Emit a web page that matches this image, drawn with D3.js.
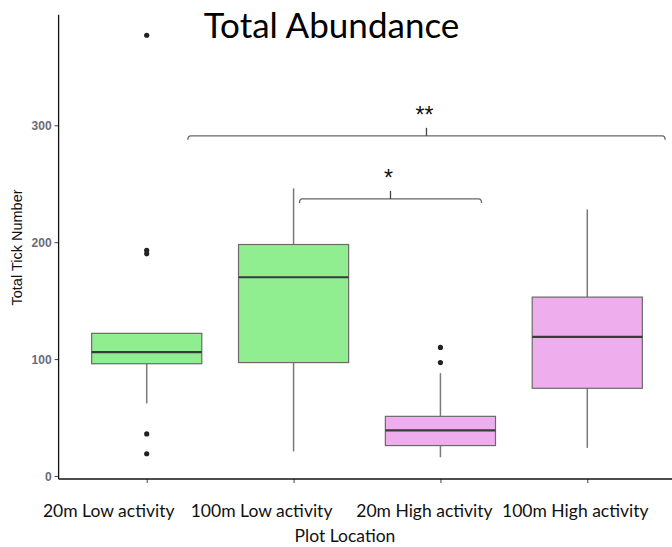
<!DOCTYPE html>
<html lang="en">
<head>
<meta charset="utf-8">
<script src="https://d3js.org/d3.v7.min.js"></script>
<style type="text/css">
body {
    margin: 0;
    background: #fff;
}
svg {
    display: block;
}
</style>
</head>
<body>
<div id="chart"></div>
<script type="text/javascript">

// chart values
var categories = ["20m Low activity", "100m Low activity", "20m High activity", "100m High activity"];
var whiskerLow = [62, 21, 16, 24];
var q1 = [96, 97, 26, 75];
var median = [106, 170, 39, 119];
var q3 = [122, 198, 51, 153];
var whiskerHigh = [122, 246, 88, 228];
var outliers = [[19, 36, 190, 193, 377], [], [97, 110], []];
var groupColor = ["#90EE90", "#90EE90", "#EEAEEE", "#EEAEEE"];
var yTicks = [0, 100, 200, 300];

// significance brackets (x in group index units, y in tick numbers)
var bracketFrom = [1.28, 2.04];
var bracketTo = [4.53, 3.28];
var bracketAt = [291, 237];
var bracketLabel = ["**", "*"];

var width = 672;
var height = 547;

var svg = d3.select("#chart")
    .append("svg")
    .attr("width", width)
    .attr("height", height);

// panel, ggplot style expansion
var panelLeft = 58.6, panelRight = 675.4, panelTop = 14.7, panelBottom = 479;

var x = d3.scalePoint()
    .domain(categories)
    .range([panelLeft, panelRight])
    .padding(0.6);

var xIdx = d3.scaleLinear()
    .domain([0.4, 4.6])
    .range([panelLeft, panelRight]);

var y = d3.scaleLinear()
    .domain([-2.6, 394.6])
    .range([panelBottom, panelTop]);

var boxWidth = x.step() * 0.75;

var boxes = categories.map(function(c, i) {
    return {
        name: c, lo: whiskerLow[i], q1: q1[i], med: median[i], q3: q3[i],
        hi: whiskerHigh[i], out: outliers[i], fill: groupColor[i]
    };
});

var g = svg.selectAll(".box")
    .data(boxes)
    .enter()
    .append("g")
    .attr("class", "box");

// whiskers
g.append("line")
    .attr("x1", function(d) { return x(d.name); })
    .attr("x2", function(d) { return x(d.name); })
    .attr("y1", function(d) { return y(d.q3); })
    .attr("y2", function(d) { return y(d.hi); })
    .attr("stroke", "#7a7a7a")
    .attr("stroke-width", 1.5);

g.append("line")
    .attr("x1", function(d) { return x(d.name); })
    .attr("x2", function(d) { return x(d.name); })
    .attr("y1", function(d) { return y(d.q1); })
    .attr("y2", function(d) { return y(d.lo); })
    .attr("stroke", "#7a7a7a")
    .attr("stroke-width", 1.5);

// boxes
g.append("rect")
    .attr("x", function(d) { return x(d.name) - boxWidth / 2; })
    .attr("width", boxWidth)
    .attr("y", function(d) { return y(d.q3); })
    .attr("height", function(d) { return y(d.q1) - y(d.q3); })
    .attr("fill", function(d) { return d.fill; })
    .attr("stroke", "#6a6a6a")
    .attr("stroke-width", 1.2);

// medians
g.append("line")
    .attr("x1", function(d) { return x(d.name) - boxWidth / 2; })
    .attr("x2", function(d) { return x(d.name) + boxWidth / 2; })
    .attr("y1", function(d) { return y(d.med); })
    .attr("y2", function(d) { return y(d.med); })
    .attr("stroke", "#3a3a3a")
    .attr("stroke-width", 2.2);

// outliers
g.selectAll("circle")
    .data(function(d) { return d.out.map(function(v) { return { name: d.name, v: v }; }); })
    .enter()
    .append("circle")
    .attr("cx", function(d) { return x(d.name); })
    .attr("cy", function(d) { return y(d.v); })
    .attr("r", 2.6)
    .attr("fill", "#222");

// axes
var yAxis = svg.append("g")
    .attr("transform", "translate(" + panelLeft + ",0)")
    .call(d3.axisLeft(y).tickValues(yTicks).tickSize(4).tickPadding(3));
yAxis.select(".domain").remove();
yAxis.append("line")
    .attr("y1", panelTop).attr("y2", panelBottom)
    .attr("stroke", "#111").attr("stroke-width", 1.3);
yAxis.selectAll(".tick line").attr("stroke", "#444");
yAxis.selectAll(".tick text")
    .attr("fill", "#6b6b78")
    .style("font-family", "Liberation Sans, Arial, sans-serif")
    .style("font-size", "12px")
    .style("font-weight", "bold")
    .attr("dy", "0.36em");

var xAxis = svg.append("g")
    .attr("transform", "translate(0," + panelBottom + ")")
    .call(d3.axisBottom(x).tickSize(4).tickFormat(""));
xAxis.select(".domain").remove();
xAxis.append("line")
    .attr("x1", panelLeft).attr("x2", panelRight)
    .attr("stroke", "#111").attr("stroke-width", 1.3);
xAxis.selectAll(".tick line").attr("stroke", "#444");

// category labels (placed as text boxes under the axis)
var labelShift = [-38, -32, -16, -12];
svg.selectAll(".xlab")
    .data(categories)
    .enter()
    .append("text")
    .attr("class", "xlab")
    .attr("x", function(d, i) { return x(d) + labelShift[i]; })
    .attr("y", 517)
    .attr("text-anchor", "middle")
    .style("font-family", "Lato, sans-serif")
    .style("font-size", "17.5px")
    .attr("fill", "#111")
    .text(function(d) { return d; });

svg.append("text")
    .attr("x", 345)
    .attr("y", 542)
    .attr("text-anchor", "middle")
    .style("font-family", "Lato, sans-serif")
    .style("font-size", "17.5px")
    .attr("fill", "#111")
    .text("Plot Location");

svg.append("text")
    .attr("transform", "translate(22,247.5) rotate(-90)")
    .attr("text-anchor", "middle")
    .style("font-family", "Liberation Sans, Arial, sans-serif")
    .style("font-size", "14.5px")
    .attr("fill", "#111")
    .text("Total Tick Number");

svg.append("text")
    .attr("x", 331.5)
    .attr("y", 37.7)
    .attr("text-anchor", "middle")
    .style("font-family", "Lato, sans-serif")
    .style("font-size", "35px")
    .attr("fill", "#000")
    .text("Total Abundance");

// significance brackets
var brackets = bracketLabel.map(function(l, i) {
    return { from: bracketFrom[i], to: bracketTo[i], at: bracketAt[i], label: l };
});

var b = svg.selectAll(".bracket")
    .data(brackets)
    .enter()
    .append("g")
    .attr("class", "bracket");

b.append("path")
    .attr("d", function(d) {
        var x1 = xIdx(d.from), x2 = xIdx(d.to), yy = y(d.at);
        return "M" + x1 + "," + (yy + 4) + "Q" + x1 + "," + yy + " " + (x1 + 3) + "," + yy +
            "L" + (x2 - 3) + "," + yy + "Q" + x2 + "," + yy + " " + x2 + "," + (yy + 4);
    })
    .attr("fill", "none")
    .attr("stroke", "#666")
    .attr("stroke-width", 1.3);

b.append("line")
    .attr("x1", function(d) { return (xIdx(d.from) + xIdx(d.to)) / 2; })
    .attr("x2", function(d) { return (xIdx(d.from) + xIdx(d.to)) / 2; })
    .attr("y1", function(d) { return y(d.at); })
    .attr("y2", function(d) { return y(d.at) - 8; })
    .attr("stroke", "#444")
    .attr("stroke-width", 1.3);

b.append("text")
    .attr("x", function(d) { return (xIdx(d.from) + xIdx(d.to)) / 2 - 2; })
    .attr("y", function(d) { return y(d.at) - 13; })
    .attr("text-anchor", "middle")
    .style("font-family", "Liberation Sans, Arial, sans-serif")
    .style("font-size", "23px")
    .attr("fill", "#111")
    .text(function(d) { return d.label; });

</script>
</body>
</html>
